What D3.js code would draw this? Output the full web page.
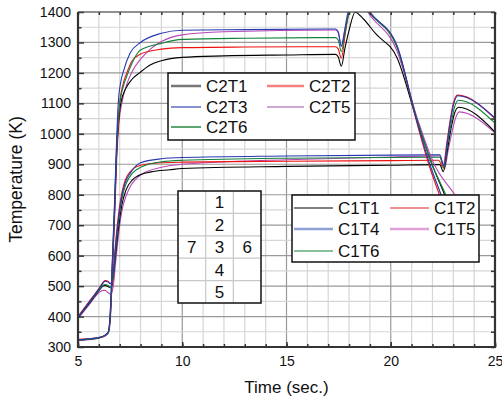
<!DOCTYPE html>
<html>
<head>
<meta charset="utf-8">
<script src="https://cdn.jsdelivr.net/npm/d3@7"></script>
<style>
  body { margin: 0; background: #fff; }
  text { font-family: Arial, "Liberation Sans", sans-serif; fill: #111; }
</style>
</head>
<body>
<script>
// C2 thermocouples (upper group), [time s, temperature K]
var C2T1 = [[5,323],[5.5,326],[6.0,330],[6.3,338],[6.46,349],[6.55,400],[6.65,560],[6.75,735],[6.85,930],[6.95,1040],[7.05,1100],[7.3,1150],[7.6,1180],[7.95,1200],[8.46,1226],[9,1240],[10,1251],[12,1256],[15,1259],[17.35,1261],[17.48,1253],[17.63,1222],[17.8,1280],[18.0,1340],[18.3,1400],[18.5,1390],[19.3,1327],[20.3,1250],[21.25,1045],[21.95,905],[22.68,783],[23.4,640]];
var C2T2 = [[5,325],[5.5,327],[6.0,331],[6.3,339],[6.46,350],[6.55,405],[6.65,570],[6.75,745],[6.85,940],[6.95,1050],[7.0,1100],[7.15,1160],[7.34,1200],[7.6,1240],[8.0,1262],[9,1278],[10,1283],[13,1285],[17.35,1286],[17.48,1279],[17.63,1248],[17.8,1320],[18.0,1400],[18.35,1440],[18.6,1435],[18.9,1405],[20.3,1287],[21.2,1050],[21.8,905],[22.42,783],[23.3,600]];
var C2T3 = [[5,324],[5.5,327],[6.0,331],[6.3,339],[6.46,350],[6.55,420],[6.65,590],[6.75,770],[6.85,975],[6.93,1100],[7.05,1170],[7.2,1210],[7.5,1265],[8.0,1300],[9,1330],[10,1340],[13,1342],[17.35,1344],[17.48,1335],[17.63,1288],[17.8,1345],[17.95,1400],[18.3,1450],[18.6,1445],[18.95,1405],[20.3,1290],[21.2,1055],[21.85,905],[22.5,783],[23.3,610]];
var C2T5 = [[5,321],[5.5,324],[6.0,329],[6.3,336],[6.46,347],[6.56,400],[6.66,560],[6.76,730],[6.86,920],[6.97,1040],[7.1,1100],[7.35,1165],[7.6,1205],[8.0,1245],[8.5,1280],[9,1303],[10,1325],[12,1335],[17.35,1341],[17.48,1332],[17.63,1288],[17.8,1340],[18.0,1400],[18.35,1440],[18.6,1435],[18.9,1400],[20.3,1272],[21.3,1045],[22.05,905],[23.1,797],[23.8,720]];
var C2T6 = [[5,323],[5.5,326],[6.0,330],[6.3,338],[6.46,349],[6.55,412],[6.65,580],[6.75,755],[6.85,955],[6.95,1065],[7.0,1100],[7.15,1150],[7.4,1200],[8.0,1275],[9,1297],[10,1310],[13,1314],[17.35,1316],[17.48,1308],[17.63,1270],[17.8,1330],[18.0,1400],[18.35,1442],[18.6,1437],[18.92,1403],[20.3,1284],[21.25,1050],[21.95,905],[22.74,783],[23.4,650]];

// C1 thermocouples (lower group)
var C1T1 = [[5,396],[5.5,440],[6.0,484],[6.2,500],[6.3,502],[6.45,498],[6.55,495],[6.62,500],[6.7,535],[6.8,600],[6.9,665],[7.0,720],[7.1,765],[7.3,815],[7.6,848],[7.82,860],[8.5,875],[9.4,882],[10,886],[15,893],[20,897],[22.35,899],[22.52,876],[22.7,940],[22.9,1020],[23.05,1065],[23.25,1087],[25,1006]];
var C1T2 = [[5,400],[5.5,446],[6.0,492],[6.2,512],[6.3,518],[6.45,515],[6.55,508],[6.62,515],[6.7,560],[6.8,640],[6.9,710],[7.0,765],[7.1,805],[7.25,845],[7.5,875],[8.0,897],[9,905],[10,907],[15,910],[20,912],[22.3,913],[22.5,890],[22.7,975],[22.85,1045],[23.0,1100],[23.2,1127],[25,1050]];
var C1T4 = [[5,398],[5.5,444],[6.0,490],[6.2,510],[6.3,516],[6.45,513],[6.55,508],[6.62,512],[6.7,550],[6.8,625],[6.9,695],[7.0,750],[7.1,795],[7.27,840],[7.5,870],[8.0,905],[9,918],[10,922],[15,927],[20,930],[22.35,931],[22.55,895],[22.72,975],[22.87,1045],[23.02,1098],[23.22,1125],[25,1052]];
var C1T5 = [[5,393],[5.5,436],[6.0,478],[6.2,486],[6.3,486],[6.45,478],[6.55,473],[6.63,480],[6.72,515],[6.8,575],[6.9,640],[7.0,700],[7.1,745],[7.3,795],[7.5,826],[8.0,865],[9,890],[10,900],[15,915],[20,924],[22.35,927],[22.58,885],[22.75,945],[22.95,1010],[23.1,1050],[23.28,1072],[25,1003]];
var C1T6 = [[5,397],[5.5,442],[6.0,486],[6.2,503],[6.3,505],[6.45,502],[6.55,495],[6.62,502],[6.7,540],[6.8,615],[6.9,685],[7.0,740],[7.1,785],[7.3,835],[7.6,870],[8.0,890],[9,908],[10,913],[15,920],[20,922],[22.35,923],[22.55,888],[22.72,965],[22.9,1035],[23.05,1085],[23.25,1110],[25,1035]];

var xTicks = [5, 10, 15, 20, 25];
var yTicks = [300, 400, 500, 600, 700, 800, 900, 1000, 1100, 1200, 1300, 1400];

// position sketch table (rows of [left, middle, right])
var tableRows = [["", "1", ""], ["", "2", ""], ["7", "3", "6"], ["", "4", ""], ["", "5", ""]];

var width = 502, height = 401;
var pL = 78, pR = 495, pT = 12, pB = 347;

var svg = d3.select("body").append("svg")
    .attr("width", width)
    .attr("height", height);

var x = d3.scaleLinear().domain([5, 25]).range([pL, pR]);
var y = d3.scaleLinear().domain([300, 1400]).range([pB, pT]);

// grid
var grid = svg.append("g");
grid.selectAll("line.vx")
    .data(d3.range(5, 26, 1))
    .enter().append("line")
    .attr("x1", function(d) { return x(d); })
    .attr("x2", function(d) { return x(d); })
    .attr("y1", pT).attr("y2", pB)
    .attr("stroke", function(d) { return d % 5 === 0 ? "#9a9a9a" : "#d6d6d6"; })
    .attr("stroke-width", 1.2);
grid.selectAll("line.hy")
    .data(d3.range(300, 1401, 50))
    .enter().append("line")
    .attr("x1", pL).attr("x2", pR)
    .attr("y1", function(d) { return y(d); })
    .attr("y2", function(d) { return y(d); })
    .attr("stroke", function(d) { return d % 100 === 0 ? "#9a9a9a" : "#d6d6d6"; })
    .attr("stroke-width", 1.2);

// curves
svg.append("clipPath").attr("id", "plot")
  .append("rect")
    .attr("x", pL).attr("y", pT)
    .attr("width", pR - pL).attr("height", pB - pT);

var line = d3.line()
    .x(function(d) { return x(d[0]); })
    .y(function(d) { return y(d[1]); })
    .curve(d3.curveMonotoneX);

var series = [
  { data: C1T5, color: "#b848b8" },
  { data: C1T1, color: "#000000" },
  { data: C1T2, color: "#ee1111" },
  { data: C1T6, color: "#11823a" },
  { data: C1T4, color: "#2838b0" },
  { data: C2T5, color: "#b848b8" },
  { data: C2T1, color: "#000000" },
  { data: C2T2, color: "#ee1111" },
  { data: C2T6, color: "#11823a" },
  { data: C2T3, color: "#2838b0" }
];

svg.append("g")
    .attr("clip-path", "url(#plot)")
  .selectAll("path")
    .data(series)
    .enter().append("path")
    .attr("d", function(d) { return line(d.data); })
    .attr("fill", "none")
    .attr("stroke", function(d) { return d.color; })
    .attr("stroke-width", 1.1);

// axes, ticks inward
svg.append("g")
    .attr("transform", "translate(0," + pB + ")")
    .call(d3.axisBottom(x).tickValues(d3.range(5, 26, 1)).tickSize(-3).tickFormat(""))
    .call(function(g) { g.select(".domain").remove(); });
var xAxis = svg.append("g")
    .attr("transform", "translate(0," + pB + ")")
    .call(d3.axisBottom(x).tickValues(xTicks).tickSize(-5).tickPadding(9.5).tickFormat(d3.format("d")));
xAxis.select(".domain").remove();
xAxis.selectAll("text").style("font-size", "14px");

svg.append("g")
    .attr("transform", "translate(" + pL + ",0)")
    .call(d3.axisLeft(y).tickValues(d3.range(350, 1400, 100)).tickSize(-3.5).tickFormat(""))
    .call(function(g) { g.select(".domain").remove(); });
var yAxis = svg.append("g")
    .attr("transform", "translate(" + pL + ",0)")
    .call(d3.axisLeft(y).tickValues(yTicks).tickSize(-6).tickPadding(7).tickFormat(d3.format("d")));
yAxis.select(".domain").remove();
yAxis.selectAll("text").style("font-size", "14px");

svg.append("g")
    .attr("transform", "translate(" + pR + ",0)")
    .call(d3.axisRight(y).tickValues(d3.range(300, 1401, 50)).tickSize(-4).tickFormat(""))
    .call(function(g) { g.select(".domain").remove(); });
svg.append("g")
    .attr("transform", "translate(0," + pT + ")")
    .call(d3.axisTop(x).tickValues(d3.range(5, 26, 1)).tickSize(-3).tickFormat(""))
    .call(function(g) { g.select(".domain").remove(); });

svg.selectAll(".tick line").attr("stroke", "#333").attr("stroke-width", 1.5);

// frame
svg.append("line").attr("x1", pL).attr("x2", pR).attr("y1", pT).attr("y2", pT)
    .attr("stroke", "#555").attr("stroke-width", 1.2);
svg.append("path")
    .attr("d", "M" + pL + "," + pT + "V" + pB + "H" + pR + "V" + pT)
    .attr("fill", "none")
    .attr("stroke", "#333")
    .attr("stroke-width", 2.2);

// axis titles
svg.append("text")
    .attr("x", (pL + pR) / 2)
    .attr("y", 393)
    .attr("text-anchor", "middle")
    .style("font-size", "17px")
    .text("Time (sec.)");
svg.append("text")
    .attr("transform", "translate(22," + ((pT + pB) / 2) + ") rotate(-90)")
    .attr("text-anchor", "middle")
    .style("font-size", "17.5px")
    .text("Temperature (K)");

// legends
function legend(box, entries) {
  var g = svg.append("g");
  g.append("rect")
      .attr("x", box[0]).attr("y", box[1])
      .attr("width", box[2] - box[0]).attr("height", box[3] - box[1])
      .attr("fill", "#fff")
      .attr("stroke", "#111")
      .attr("stroke-width", 1.5);
  var item = g.selectAll("g")
      .data(entries)
      .enter().append("g");
  item.append("line")
      .attr("x1", function(d) { return d.x1; })
      .attr("x2", function(d) { return d.x2; })
      .attr("y1", function(d) { return d.y; })
      .attr("y2", function(d) { return d.y; })
      .attr("stroke", function(d) { return d.color; })
      .attr("stroke-width", function(d) { return d.w; });
  item.append("text")
      .attr("x", function(d) { return d.x2 + 5; })
      .attr("y", function(d) { return d.y; })
      .attr("dy", "0.36em")
      .style("font-size", "17px")
      .text(function(d) { return d.name; });
}

legend([168, 73, 355, 140], [
  { name: "C2T1", color: "#777777", w: 2.5, x1: 171, x2: 201, y: 86 },
  { name: "C2T3", color: "#2838b0", w: 1.1, x1: 171, x2: 201, y: 107 },
  { name: "C2T6", color: "#4a9a60", w: 1.8, x1: 171, x2: 201, y: 127 },
  { name: "C2T2", color: "#f48080", w: 2.5, x1: 267, x2: 304, y: 86 },
  { name: "C2T5", color: "#a050a8", w: 1.1, x1: 267, x2: 304, y: 107 }
]);

legend([292, 195, 479, 262], [
  { name: "C1T1", color: "#000000", w: 1.1, x1: 294, x2: 333, y: 208 },
  { name: "C1T4", color: "#8ea0d4", w: 2.5, x1: 294, x2: 333, y: 229 },
  { name: "C1T6", color: "#11823a", w: 1.1, x1: 294, x2: 333, y: 251 },
  { name: "C1T2", color: "#dd2222", w: 1.1, x1: 390, x2: 429, y: 208 },
  { name: "C1T5", color: "#e0a0d8", w: 2.5, x1: 390, x2: 429, y: 229 }
]);

// thermocouple position table
var tx = d3.scaleBand().domain([0, 1, 2]).range([178, 261]);
var ty = d3.scaleBand().domain(d3.range(tableRows.length)).range([191, 303]);
var tab = svg.append("g");
tab.append("rect")
    .attr("x", 178).attr("y", 191)
    .attr("width", 83).attr("height", 112)
    .attr("fill", "#fff");
tab.selectAll("line.r")
    .data(d3.range(1, tableRows.length))
    .enter().append("line")
    .attr("x1", 178).attr("x2", 261)
    .attr("y1", function(d) { return ty(d); })
    .attr("y2", function(d) { return ty(d); })
    .attr("stroke", "#c8c8c8").attr("stroke-width", 1.2);
tab.selectAll("line.c")
    .data([1, 2])
    .enter().append("line")
    .attr("x1", function(d) { return tx(d); })
    .attr("x2", function(d) { return tx(d); })
    .attr("y1", 191).attr("y2", 303)
    .attr("stroke", "#c8c8c8").attr("stroke-width", 1.2);
tab.append("rect")
    .attr("x", 178).attr("y", 191)
    .attr("width", 83).attr("height", 112)
    .attr("fill", "none")
    .attr("stroke", "#111").attr("stroke-width", 1.5);
tableRows.forEach(function(row, i) {
  row.forEach(function(label, j) {
    if (!label) return;
    tab.append("text")
        .attr("x", tx(j) + tx.bandwidth() / 2)
        .attr("y", ty(i) + ty.bandwidth() / 2)
        .attr("dy", "0.36em")
        .attr("text-anchor", "middle")
        .style("font-size", "17px")
        .text(label);
  });
});
</script>
</body>
</html>
